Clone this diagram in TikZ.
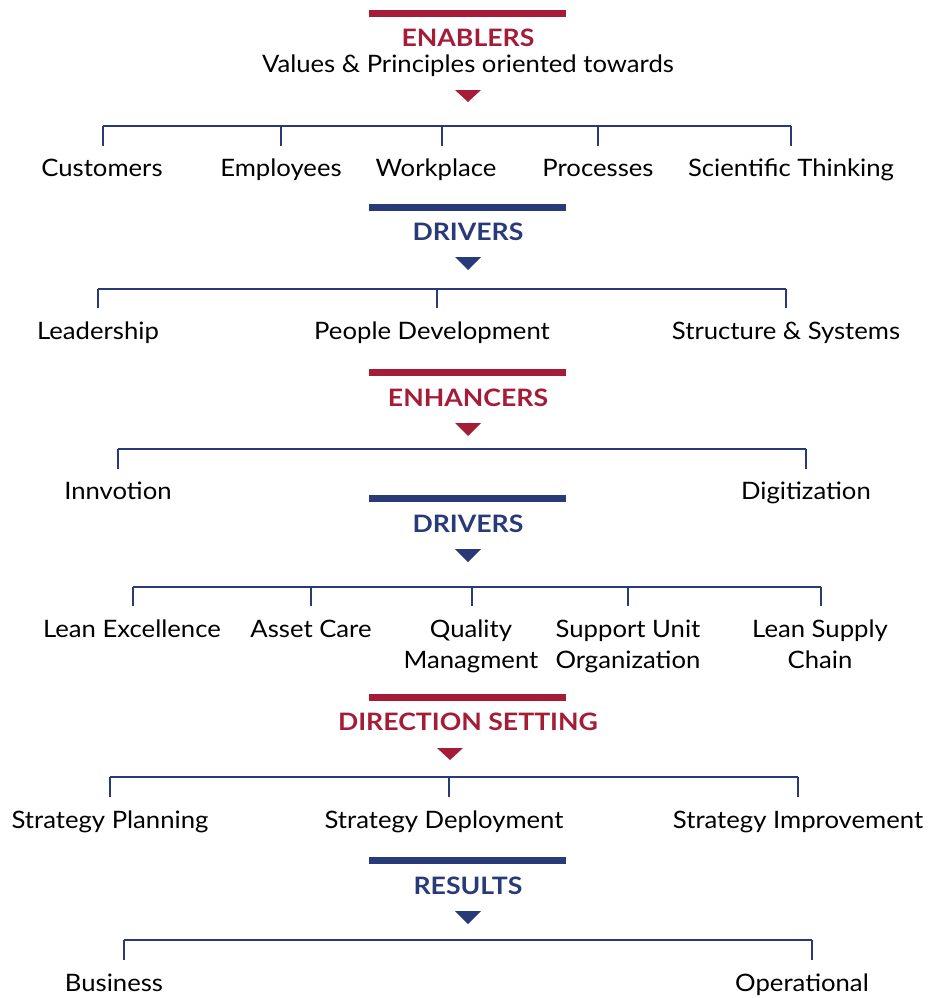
\documentclass[tikz,border=0pt]{standalone}
\usepackage{fontspec}
\setmainfont{Lato}[FakeStretch=1.07]
\newfontfamily\headfont{Lato}[FakeStretch=1.11]
\definecolor{cred}{HTML}{A51C38}
\definecolor{cblue}{HTML}{283A78}
\tikzset{
  bar/.style={fill=#1, draw=none, minimum width=197pt, minimum height=7pt, inner sep=0pt, outer sep=0pt},
  head/.style={text=#1, font=\headfont\fontsize{24}{28}\selectfont\bfseries, inner sep=0pt, anchor=base},
  lbl/.style={font=\fontsize{24}{31}\selectfont, text=black, inner sep=0pt, align=center, anchor=base},
  brk/.style={draw=cblue, line width=1.4pt},
  tri/.style={fill=#1, draw=none}
}
\newcommand{\mytri}[4]{\fill[tri=#4] (#1-13,#2) -- (#1+13,#2) -- (#1,#3) -- cycle;}
\begin{document}
\begin{tikzpicture}[x=1pt,y=-1pt]
\useasboundingbox (0,0) rectangle (930,998);
% ---- ENABLERS
\node[bar=cred] (bar1) at (467.5,14) {};
\node[head=cred] (h1) at (468,47) {ENABLERS};
\node[lbl] (sub1) at (468,73) {Values \& Principles oriented towards};
\mytri{468}{90}{102}{cred}
\coordinate (b1l) at (103,126); \coordinate (b1r) at (791,126);
\draw[brk] (b1l) -- (b1r);
\node[lbl] (l11) at (102,176) {Customers};
\node[lbl] (l12) at (281,176) {Employees};
\node[lbl] (l13) at (436,176) {Workplace};
\node[lbl] (l14) at (598,176) {Processes};
\node[lbl] (l15) at (791,176) {Scientific Thinking};
\foreach \x/\n in {103/a,281/b,442/c,598/d,791/e}{
  \coordinate (t1\n) at (\x,126); \coordinate (d1\n) at (\x,146);
  \draw[brk] (t1\n) -- (d1\n);}
% ---- DRIVERS
\node[bar=cblue] (bar2) at (467.5,207.5) {};
\node[head=cblue] (h2) at (468,240) {DRIVERS};
\mytri{468}{257}{270}{cblue}
\coordinate (b2l) at (98,289); \coordinate (b2r) at (786,289);
\draw[brk] (b2l) -- (b2r);
\node[lbl] (l21) at (98,339) {Leadership};
\node[lbl] (l22) at (432,339) {People Development};
\node[lbl] (l23) at (786,339) {Structure \& Systems};
\foreach \x/\n in {98/a,437/b,786/c}{
  \coordinate (t2\n) at (\x,289); \coordinate (d2\n) at (\x,308);
  \draw[brk] (t2\n) -- (d2\n);}
% ---- ENHANCERS
\node[bar=cred] (bar3) at (467.5,372.5) {};
\node[head=cred] (h3) at (468,406) {ENHANCERS};
\mytri{468}{423}{436}{cred}
\coordinate (b3l) at (118,449); \coordinate (b3r) at (806,449);
\draw[brk] (b3l) -- (b3r);
\node[lbl] (l31) at (118,499) {Innvotion};
\node[lbl] (l32) at (806,499) {Digitization};
\foreach \x/\n in {118/a,806/b}{
  \coordinate (t3\n) at (\x,449); \coordinate (d3\n) at (\x,469);
  \draw[brk] (t3\n) -- (d3\n);}
% ---- DRIVERS
\node[bar=cblue] (bar4) at (467.5,498.5) {};
\node[head=cblue] (h4) at (468,532) {DRIVERS};
\mytri{468}{549}{562}{cblue}
\coordinate (b4l) at (133,587); \coordinate (b4r) at (821,587);
\draw[brk] (b4l) -- (b4r);
\node[lbl] (l41) at (132,637) {Lean Excellence};
\node[lbl] (l42) at (311,637) {Asset Care};
\node[lbl] (l43) at (471,668) {Quality\\Managment};
\node[lbl] (l44) at (628,668) {Support Unit\\Organization};
\node[lbl] (l45) at (820,668) {Lean Supply\\Chain};
\foreach \x/\n in {133/a,311/b,472/c,628/d,821/e}{
  \coordinate (t4\n) at (\x,587); \coordinate (d4\n) at (\x,606);
  \draw[brk] (t4\n) -- (d4\n);}
% ---- DIRECTION SETTING
\node[bar=cred] (bar5) at (467.5,697.5) {};
\node[head=cred] (h5) at (468,730) {DIRECTION SETTING};
\mytri{450}{748}{760}{cred}
\coordinate (b5l) at (110,777); \coordinate (b5r) at (798,777);
\draw[brk] (b5l) -- (b5r);
\node[lbl] (l51) at (110,828) {Strategy Planning};
\node[lbl] (l52) at (444,828) {Strategy Deployment};
\node[lbl] (l53) at (798,828) {Strategy Improvement};
\foreach \x/\n in {110/a,449/b,798/c}{
  \coordinate (t5\n) at (\x,777); \coordinate (d5\n) at (\x,797);
  \draw[brk] (t5\n) -- (d5\n);}
% ---- RESULTS
\node[bar=cblue] (bar6) at (467.5,860.5) {};
\node[head=cblue] (h6) at (468,894) {RESULTS};
\mytri{468}{911}{924}{cblue}
\coordinate (b6l) at (124,940); \coordinate (b6r) at (812,940);
\draw[brk] (b6l) -- (b6r);
\node[lbl] (l61) at (114,991) {Business};
\node[lbl] (l62) at (802,991) {Operational};
\foreach \x/\n in {124/a,812/b}{
  \coordinate (t6\n) at (\x,940); \coordinate (d6\n) at (\x,960);
  \draw[brk] (t6\n) -- (d6\n);}
\end{tikzpicture}
\end{document}
